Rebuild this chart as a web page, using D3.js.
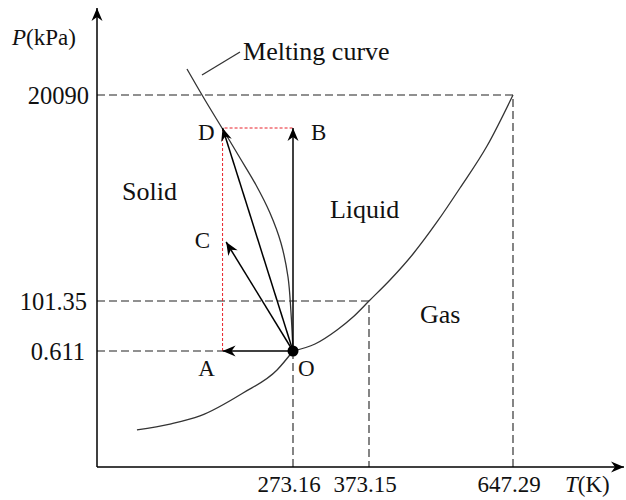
<!DOCTYPE html>
<html>
<head>
<meta charset="utf-8">
<script src="https://cdn.jsdelivr.net/npm/d3@7"></script>
<style>
  body { margin: 0; background: #fff; }
  svg text { font-family: "Liberation Serif", "Times New Roman", serif; font-size: 23px; fill: #111; }
  svg text.big { font-size: 26px; }
</style>
</head>
<body>
<div id="chart"></div>
<script>
// schematic phase diagram of water (not to scale)
var tTicks = [273.16, 373.15, 647.29];
var pTicks = [20090, 101.35, 0.611];

// triple point and critical point
var triple = {T: 273.16, P: 0.611};
var critical = {T: 647.29, P: 20090};

// sublimation curve (below O)
var sublimation = [
  [55.7, 0.195], [101.7, 0.226], [143.5, 0.269], [203.5, 0.390], [250.9, 0.511],
  [273.16, 0.611]
];

// vaporisation curve, O up to the critical point
var vaporisation = [
  [273.16, 0.611], [302.1, 14.71], [331.1, 42.92], [352.1, 69.11], [373.15, 101.35],
  [413.1, 2139], [456.9, 4662], [502.6, 7768], [546.4, 11065], [597.8, 15141],
  [647.29, 20090]
];

// melting curve
var meltCurve = [
  [125.4, 22603], [150.5, 19604], [174.2, 16887], [199.3, 13977], [221.6, 11357],
  [241.1, 8640], [256.4, 5729], [266.2, 2430], [270.4, 77.2], [273.16, 0.611]
];

// end states of the processes starting at O
var states = [
  {name: "A", T: 175, P: 0.611, dx: -16, dy: 25, anchor: "middle"},
  {name: "C", T: 180, P: 5826, dx: -16, dy: 6, anchor: "end"},
  {name: "D", T: 175, P: 16887, dx: -8, dy: 12, anchor: "end"},
  {name: "B", T: 273.16, P: 16887, dx: 18, dy: 12, anchor: "start"}
];

var regions = [
  {name: "Solid", T: 34.8, P: 9901},
  {name: "Liquid", T: 321.8, P: 8155},
  {name: "Gas", T: 470.2, P: 57}
];

var width = 626, height = 500;

var svg = d3.select("#chart").append("svg")
  .attr("width", width)
  .attr("height", height);

// piecewise scales, the diagram is only schematic
var x = d3.scaleLinear()
  .domain([0, 273.16, 373.15, 647.29, 850])
  .range([97, 293, 369, 513, 620]);

var y = d3.scaleLinear()
  .domain([0, 0.611, 101.35, 20090, 28500])
  .range([467, 351, 301, 95, 8]);

// arrow heads
var defs = svg.append("defs");
defs.append("marker")
  .attr("id", "arrow")
  .attr("markerUnits", "userSpaceOnUse")
  .attr("viewBox", "-14 -6 15 12")
  .attr("refX", 0).attr("refY", 0)
  .attr("markerWidth", 15).attr("markerHeight", 12)
  .attr("orient", "auto")
  .append("path")
  .attr("d", "M0,0 L-13,-5.5 L-9,0 L-13,5.5 Z")
  .attr("fill", "#000");

var line = d3.line()
  .x(function(d) { return x(d[0]); })
  .y(function(d) { return y(d[1]); });

// dashed helper lines
var dashes = [
  [[0, critical.P], [critical.T, critical.P], [critical.T, 0]],
  [[0, 101.35], [373.15, 101.35], [373.15, 0]],
  [[0, triple.P], [states[0].T, triple.P]],
  [[triple.T, triple.P], [triple.T, 0]]
];
svg.append("g").selectAll("path")
  .data(dashes)
  .enter().append("path")
  .attr("d", line)
  .attr("fill", "none")
  .attr("stroke", "#222")
  .attr("stroke-width", 1.1)
  .attr("stroke-dasharray", "8,4");

// red dashed A -> D -> B
svg.append("path")
  .attr("d", line([[states[0].T, states[0].P], [states[2].T, states[2].P], [states[3].T, states[3].P]]))
  .attr("fill", "none")
  .attr("stroke", "#e8202a")
  .attr("stroke-width", 1)
  .attr("stroke-dasharray", "3,2");

// axes with arrows
svg.append("line")
  .attr("x1", x(0)).attr("y1", y(0))
  .attr("x2", x(0)).attr("y2", y.range()[4])
  .attr("stroke", "#000").attr("stroke-width", 1.5)
  .attr("marker-end", "url(#arrow)");
svg.append("line")
  .attr("x1", x(0)).attr("y1", y(0))
  .attr("x2", 624).attr("y2", y(0))
  .attr("stroke", "#000").attr("stroke-width", 1.5)
  .attr("marker-end", "url(#arrow)");

// phase curves
var smoothX = d3.line()
  .x(function(d) { return x(d[0]); })
  .y(function(d) { return y(d[1]); })
  .curve(d3.curveMonotoneX);

svg.append("g").selectAll("path")
  .data([sublimation, vaporisation])
  .enter().append("path")
  .attr("d", smoothX)
  .attr("fill", "none")
  .attr("stroke", "#333")
  .attr("stroke-width", 1.3);

svg.append("path")
  .attr("d", smoothX.curve(d3.curveCatmullRom)(meltCurve))
  .attr("fill", "none")
  .attr("stroke", "#333")
  .attr("stroke-width", 1.3);

// melting curve leader and label
svg.append("line")
  .attr("x1", x(146.3)).attr("y1", y(22023))
  .attr("x2", x(199.3)).attr("y2", y(24247))
  .attr("stroke", "#333").attr("stroke-width", 1.3);
svg.append("text")
  .attr("class", "big")
  .attr("x", x(203.5)).attr("y", y(23473))
  .text("Melting curve");

// process arrows from O
svg.append("g").selectAll("line")
  .data(states)
  .enter().append("line")
  .attr("x1", x(triple.T)).attr("y1", y(triple.P))
  .attr("x2", function(d) { return x(d.T); })
  .attr("y2", function(d) { return y(d.P); })
  .attr("stroke", "#000")
  .attr("stroke-width", 1.5)
  .attr("marker-end", "url(#arrow)");

svg.append("circle")
  .attr("cx", x(triple.T)).attr("cy", y(triple.P))
  .attr("r", 5.5)
  .attr("fill", "#000");

// point labels
svg.append("g").selectAll("text")
  .data(states)
  .enter().append("text")
  .attr("x", function(d) { return x(d.T) + d.dx; })
  .attr("y", function(d) { return y(d.P) + d.dy; })
  .attr("text-anchor", function(d) { return d.anchor; })
  .text(function(d) { return d.name; });
svg.append("text")
  .attr("x", x(triple.T) + 5).attr("y", y(triple.P) + 25)
  .text("O");

// region labels
svg.append("g").selectAll("text")
  .data(regions)
  .enter().append("text")
  .attr("class", "big")
  .attr("x", function(d) { return x(d.T); })
  .attr("y", function(d) { return y(d.P); })
  .text(function(d) { return d.name; });

// tick labels
svg.append("g").selectAll("text")
  .data(pTicks)
  .enter().append("text")
  .attr("x", function(d, i) { return 89 - i * 2; })
  .attr("y", function(d) { return y(d); })
  .attr("dy", "0.35em")
  .attr("text-anchor", "end")
  .style("font-size", "24.5px")
  .text(function(d) { return d; });

svg.append("g").selectAll("text")
  .data(tTicks)
  .enter().append("text")
  .attr("x", function(d) { return x(d) - 4; })
  .attr("y", y(0) + 25)
  .attr("text-anchor", "middle")
  .text(function(d) { return d.toFixed(2); });

// axis titles
var py = svg.append("text").attr("x", 12).attr("y", 45);
py.append("tspan").attr("font-style", "italic").text("P");
py.append("tspan").text("(kPa)");

var tx = svg.append("text").attr("x", 565).attr("y", y(0) + 25);
tx.append("tspan").attr("font-style", "italic").text("T");
tx.append("tspan").text("(K)");
</script>
</body>
</html>
